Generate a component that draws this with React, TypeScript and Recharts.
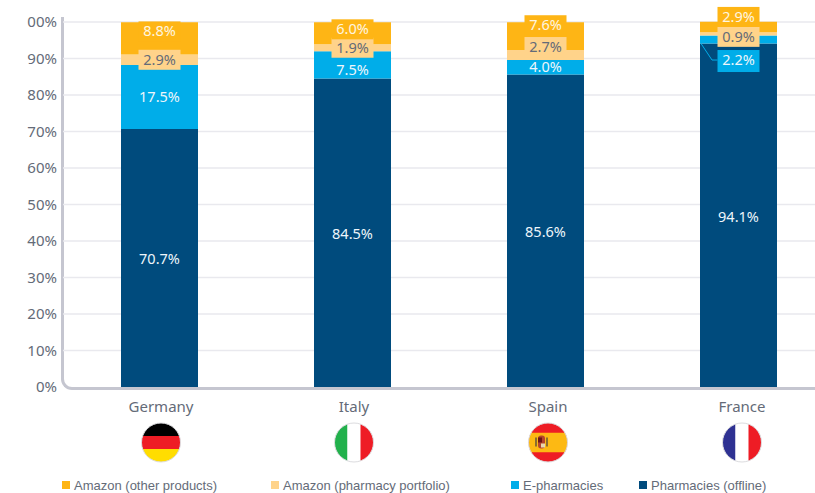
import { BarChart, Bar, XAxis, YAxis, CartesianGrid, LabelList, Legend } from "recharts";

const countries = ["Germany", "Italy", "Spain", "France"];
const amazonOther = [8.8, 6.0, 7.6, 2.9];
const amazonPharmacy = [2.9, 1.9, 2.7, 0.9];
const ePharmacies = [17.5, 7.5, 4.0, 2.2];
const offline = [70.7, 84.5, 85.6, 94.1];
const yTicks = [0, 10, 20, 30, 40, 50, 60, 70, 80, 90, 100];
// the source picture cuts the leading 1 off the top tick
const yTickLabels = ["0%", "10%", "20%", "30%", "40%", "50%", "60%", "70%", "80%", "90%", "00%"];

const data = countries.map((c, i) => ({
  c,
  offline: offline[i],
  ePharmacies: ePharmacies[i],
  amazonPharmacy: amazonPharmacy[i],
  amazonOther: amazonOther[i],
}));

const TEXT = "#646b78";
const FONT = "'Noto Sans', 'Open Sans', sans-serif";
const legendLeft = [62, 271, 511, 639];
const tickShift = [1.5, 1.5, 2.5, 3.5];

// how far each label is pushed off its segment so it stays readable
const nudgeOther = [-7, -4, -11, -10];
const nudgePharmacy = [0, 0, -8, 3];
const nudgeE = [0, 5, 0, 20.5];
const nudgeOffline = [1.5, 1.5, 1.5, 1.5];
const boxedE = [false, false, false, true];

function SegLabel(props: any) {
  const { x, y, width, height, value, index, boxFill, color, nudge, leader, boxed } = props;
  const cx = x + width / 2;
  const cy = y + height / 2 + (nudge ? nudge[index] : 0);
  const showBox = boxFill && (!boxed || boxed[index]);
  return (
    <g>
      {leader && index === 3 && (
        <polyline points={`${x + 1},${y + height} ${x + 12},${cy} ${cx - 21},${cy}`} fill="none" stroke={boxFill} strokeWidth={1} />
      )}
      {showBox && <rect x={cx - 21} y={cy - 10} width={42} height={index === 3 && leader ? 22 : 20} fill={boxFill} />}
      <text x={cx} y={cy} dy={5} textAnchor="middle" fontSize={14.5} fontFamily={FONT} fill={color}>
        {Number(value).toFixed(1)}%
      </text>
    </g>
  );
}

function Flag({ name, cx, cy, id }: { name: string; cx: number; cy: number; id: string }) {
  const r = 19.5;
  const x0 = cx - r;
  const y0 = cy - r;
  const d = r * 2;
  return (
    <g>
      <clipPath id={id}>
        <circle cx={cx} cy={cy} r={r} />
      </clipPath>
      <g clipPath={`url(#${id})`}>
        {name === "Germany" && (
          <>
            <rect x={x0} y={y0} width={d} height={d / 3} fill="#000" />
            <rect x={x0} y={y0 + d / 3} width={d} height={d / 3} fill="#ee1c25" />
            <rect x={x0} y={y0 + (2 * d) / 3} width={d} height={d / 3} fill="#ffdd00" />
          </>
        )}
        {name === "Italy" && (
          <>
            <rect x={x0} y={y0} width={d / 3} height={d} fill="#22b14c" />
            <rect x={x0 + d / 3} y={y0} width={d / 3} height={d} fill="#fff" />
            <rect x={x0 + (2 * d) / 3} y={y0} width={d / 3} height={d} fill="#ee1c25" />
          </>
        )}
        {name === "Spain" && (
          <>
            <rect x={x0} y={y0} width={d} height={d} fill="#ee1c25" />
            <rect x={x0} y={y0 + d / 4} width={d} height={d / 2} fill="#fdb913" />
            <rect x={cx - 13} y={cy - 5} width={2} height={9} fill="#8a6d2f" />
            <rect x={cx - 2} y={cy - 5} width={2} height={9} fill="#8a6d2f" />
            <rect x={cx - 10} y={cy - 7} width={7} height={13} rx={3} fill="#b5452c" />
            <rect x={cx - 10} y={cy - 5} width={4} height={5} fill="#6e1414" />
            <rect x={cx - 7} y={cy + 1} width={4} height={4} fill="#e8d9b0" />
          </>
        )}
        {name === "France" && (
          <>
            <rect x={x0} y={y0} width={d / 3} height={d} fill="#2e3192" />
            <rect x={x0 + d / 3} y={y0} width={d / 3} height={d} fill="#fff" />
            <rect x={x0 + (2 * d) / 3} y={y0} width={d / 3} height={d} fill="#ee1c25" />
          </>
        )}
      </g>
      <circle cx={cx} cy={cy} r={r} fill="none" stroke="#dcdcdf" strokeWidth={1} />
    </g>
  );
}

function CountryTick(props: any) {
  const { x, y, payload, index } = props;
  const cx = x + tickShift[index];
  return (
    <g>
      <text x={cx} y={y + 23} textAnchor="middle" fontSize={15} fontFamily={FONT} fill={TEXT}>
        {payload.value}
      </text>
      <Flag name={payload.value} cx={cx} cy={y + 53.5} id={`flag-${index}`} />
    </g>
  );
}

const seriesOrder = ["Amazon (other products)", "Amazon (pharmacy portfolio)", "E-pharmacies", "Pharmacies (offline)"];

function LegendRow({ payload }: any) {
  const items = [...(payload || [])].sort((a: any, b: any) => seriesOrder.indexOf(a.value) - seriesOrder.indexOf(b.value));
  return (
    <div style={{ position: "relative", height: 16, fontFamily: "'Liberation Sans', Arial, sans-serif", fontSize: 13, color: TEXT }}>
      {items.map((it: any, i: number) => (
        <div key={it.value} style={{ position: "absolute", left: legendLeft[i], top: 1, whiteSpace: "nowrap", lineHeight: "16px" }}>
          <span style={{ display: "inline-block", width: 8, height: 8, background: it.color, marginRight: 4, verticalAlign: 1 }} />
          {it.value}
        </div>
      ))}
    </div>
  );
}

export default function App() {
  return (
    <div style={{ position: "fixed", left: 0, top: 0, width: 815, height: 493, overflow: "hidden", background: "#fff" }}>
      <div
        style={{
          position: "absolute",
          left: 61,
          top: 17,
          width: 780,
          height: 370,
          borderLeft: "3px solid #c5c6d0",
          borderBottom: "3px solid #c5c6d0",
          borderBottomLeftRadius: 11,
        }}
      />
      <div style={{ position: "absolute", left: 0, top: 0 }}>
        <BarChart width={835} height={493} data={data} margin={{ top: 3.75, right: 0, left: 0, bottom: 0 }} barSize={77}>
          <CartesianGrid vertical={false} stroke="#e9e9ee" strokeWidth={1.3} horizontalValues={yTicks.slice(1)} />
          <XAxis dataKey="c" height={90} axisLine={false} tickLine={false} tickSize={0} tick={<CountryTick />} interval={0} />
          <YAxis
            width={63}
            domain={[0, 105]}
            ticks={yTicks}
            axisLine={false}
            tickLine={false}
            tickSize={0}
            tickMargin={6}
            tickFormatter={(v: number) => yTickLabels[yTicks.indexOf(v)]}
            tick={{ fontSize: 15, fontFamily: FONT, fill: TEXT }}
          />
          <Legend verticalAlign="bottom" height={16} wrapperStyle={{ left: 0, bottom: 0, width: 815 }} content={<LegendRow />} />
          <Bar dataKey="offline" name="Pharmacies (offline)" stackId="a" fill="#004b7d" isAnimationActive={false}>
            <LabelList dataKey="offline" content={<SegLabel color="#eef6fb" nudge={nudgeOffline} />} />
          </Bar>
          <Bar dataKey="ePharmacies" name="E-pharmacies" stackId="a" fill="#00ade9" isAnimationActive={false}>
            <LabelList dataKey="ePharmacies" content={<SegLabel color="#eef6fb" boxFill="#00ade9" nudge={nudgeE} boxed={boxedE} leader />} />
          </Bar>
          <Bar dataKey="amazonPharmacy" name="Amazon (pharmacy portfolio)" stackId="a" fill="#ffd38a" isAnimationActive={false}>
            <LabelList dataKey="amazonPharmacy" content={<SegLabel color={TEXT} boxFill="#ffd38a" nudge={nudgePharmacy} />} />
          </Bar>
          <Bar dataKey="amazonOther" name="Amazon (other products)" stackId="a" fill="#feb515" isAnimationActive={false}>
            <LabelList dataKey="amazonOther" content={<SegLabel color="#fff6e0" boxFill="#feb515" nudge={nudgeOther} />} />
          </Bar>
        </BarChart>
      </div>
    </div>
  );
}
